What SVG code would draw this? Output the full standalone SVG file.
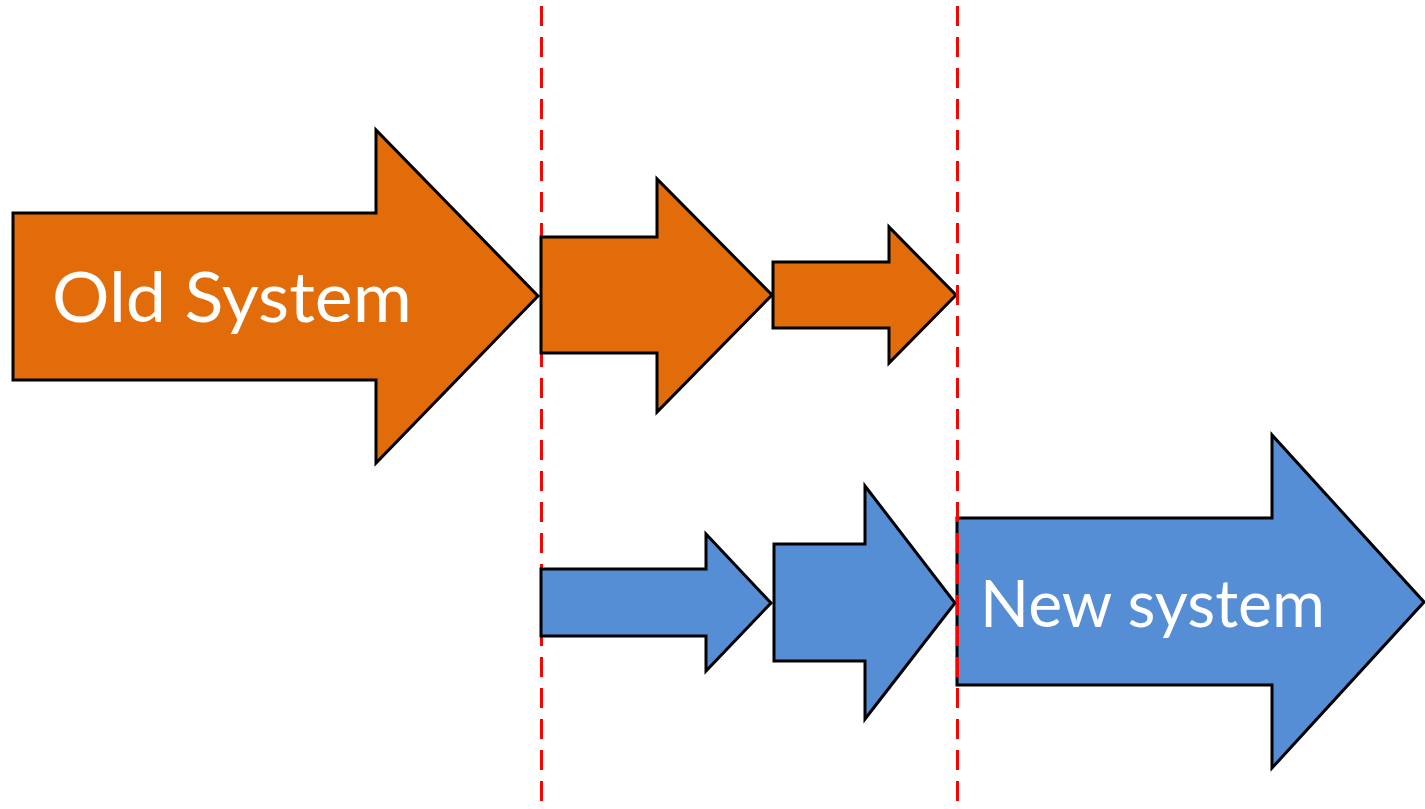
<svg xmlns="http://www.w3.org/2000/svg" width="1425" height="809" viewBox="0 0 1425 809">
  <style>
    .old { fill: #E36C0A; stroke: #000; stroke-width: 3; stroke-linejoin: miter; }
    .new { fill: #558ED5; stroke: #000; stroke-width: 3; stroke-linejoin: miter; }
    .guide { stroke: #FF0000; stroke-width: 3; stroke-dasharray: 20 11; fill: none; }
    .label { fill: #FFFFFF; font-family: Lato, "Open Sans", "Liberation Sans", sans-serif; }
  </style>
  <rect width="1425" height="809" fill="#FFFFFF"/>
  <g id="guide-left">
    <line class="guide" x1="541.5" y1="6" x2="541.5" y2="809"/>
  </g>
  <g id="old-system">
    <polygon class="old" points="13,213 376,213 376,130 538,296 376,463 376,380 13,380"/>
    <text class="label" x="52" y="322" font-size="70" textLength="360" lengthAdjust="spacingAndGlyphs">Old System</text>
  </g>
  <g id="old-2">
    <polygon class="old" points="541,237 657,237 657,179 772,295 657,412 657,353 541,353"/>
  </g>
  <g id="old-3">
    <polygon class="old" points="773,262 889,262 889,227 956,295 889,363 889,328 773,328"/>
  </g>
  <g id="new-1">
    <polygon class="new" points="541,569 706,569 706,534 771,603 706,671 706,636 541,636"/>
  </g>
  <g id="new-2">
    <polygon class="new" points="774,544 865,544 865,486 955,603 865,719 865,661 774,661"/>
  </g>
  <g id="new-system">
    <polygon class="new" points="957,518 1272,518 1272,435 1424,602 1272,768 1272,685 957,685"/>
    <text class="label" x="980" y="627" font-size="66" textLength="345" lengthAdjust="spacingAndGlyphs">New system</text>
  </g>
  <g id="connectors">
    <line class="guide" x1="957.5" y1="6" x2="957.5" y2="809"/>
  </g>
</svg>
